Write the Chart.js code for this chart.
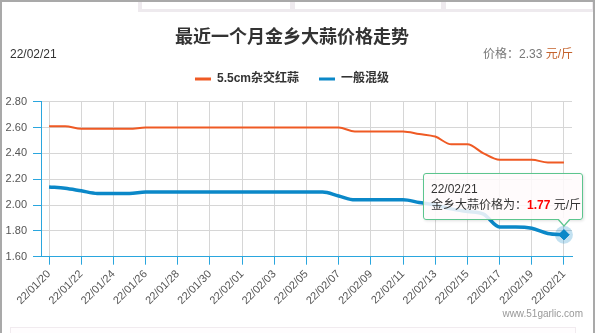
<!DOCTYPE html>
<html>
<head>
<meta charset="utf-8">
<script src="https://cdn.jsdelivr.net/npm/chart.js@4.4.1/dist/chart.umd.min.js"></script>
<style>
html,body{margin:0;padding:0;background:#fff;}
#wrap{position:relative;width:595px;height:333px;overflow:hidden;background:#fff;font-family:"Liberation Sans","Noto Sans CJK SC",sans-serif;}
#tabs{position:absolute;left:138px;top:0;width:455px;height:12px;background:#eeeaee;}
.cell{position:absolute;top:0;height:9px;background:#fff;}
#bottombox{position:absolute;left:10px;top:327px;width:564px;height:30px;border:1px solid #f1ebef;background:#fffdfe;}
#frame{position:absolute;left:0;top:0;width:591px;height:345px;border:2px solid #a9a9a9;border-bottom:none;pointer-events:none;}
#box{position:absolute;left:0;top:0;width:595px;height:333px;}
#date{position:absolute;left:10px;top:47px;font-size:12px;color:#333;line-height:14px;}
#price{position:absolute;right:22px;top:47px;font-size:12px;color:#777;line-height:14px;}
#price .u{color:#c4622c;}
#wm{position:absolute;right:12px;top:308px;font-size:10px;color:#999;line-height:12px;}
#tip{position:absolute;display:none;width:158px;height:45px;border:1px solid #5cc58e;border-radius:3px;background:rgba(255,250,252,0.86);box-shadow:1px 1px 3px rgba(0,0,0,0.12);font-size:12px;color:#333;line-height:16px;box-sizing:content-box;}
#tip .in{position:absolute;left:7px;top:7px;white-space:nowrap;}
#tip .v{color:#ff0000;font-weight:bold;}
#tip .ao{position:absolute;bottom:-8px;width:0;height:0;border-left:7px solid transparent;border-right:7px solid transparent;border-top:8px solid #5cc58e;}
#tip .ai{position:absolute;bottom:-6px;width:0;height:0;border-left:6px solid transparent;border-right:6px solid transparent;border-top:7px solid #fffafc;}
</style>
</head>
<body>
<div id="wrap">
  <div id="tabs">
    <div class="cell" style="left:4px;width:148px;"></div>
    <div class="cell" style="left:157px;width:146px;"></div>
    <div class="cell" style="left:308px;width:146px;"></div>
  </div>
  <div id="bottombox"></div>
  <div id="box"><canvas id="c"></canvas></div>
  <div id="date"></div>
  <div id="price"></div>
  <div id="wm">www.51garlic.com</div>
  <div id="tip"><div class="in"><div class="d"></div><div>金乡大蒜价格为：<span class="v"></span> 元/斤</div></div><div class="ao"></div><div class="ai"></div></div>
  <div id="frame"></div>
</div>
<script>
const dates = ['22/01/20','22/01/21','22/01/22','22/01/23','22/01/24','22/01/25','22/01/26','22/01/27','22/01/28','22/01/29','22/01/30','22/01/31',
  '22/02/01','22/02/02','22/02/03','22/02/04','22/02/05','22/02/06','22/02/07','22/02/08','22/02/09','22/02/10','22/02/11','22/02/12',
  '22/02/13','22/02/14','22/02/15','22/02/16','22/02/17','22/02/18','22/02/19','22/02/20','22/02/21'];
const redGarlic = [2.61,2.61,2.59,2.59,2.59,2.59,2.60,2.60,2.60,2.60,2.60,2.60,2.60,2.60,2.60,2.60,2.60,2.60,2.60,
  2.57,2.57,2.57,2.57,2.55,2.53,2.47,2.47,2.40,2.35,2.35,2.35,2.33,2.33];
const mixedGrade = [2.14,2.13,2.11,2.09,2.09,2.09,2.10,2.10,2.10,2.10,2.10,2.10,2.10,2.10,2.10,2.10,2.10,2.10,
  2.07,2.04,2.04,2.04,2.04,2.02,2.00,1.97,1.95,1.93,1.83,1.83,1.82,1.78,1.77];
const seriesNames = ['5.5cm杂交红蒜','一般混级'];
const yTicks = [1.60,1.80,2.00,2.20,2.40,2.60,2.80];

const ORANGE = '#ef5a24', BLUE = '#0b88c8', AXIS = '#2aa6de', GRID = '#d6d6d6';
const LAST = dates.length - 1;

document.getElementById('date').textContent = dates[LAST];
document.getElementById('price').innerHTML = '价格：' + redGarlic[LAST].toFixed(2) + ' <span class="u">元/斤</span>';

const legendGap = {
  id: 'legendGap',
  afterInit(chart) {
    const lg = chart.legend;
    if (lg) {
      const f = lg.fit;
      lg.fit = function () { f.call(this); this.height += 6.7; };
    }
  }
};
const halo = {
  id: 'halo',
  afterDatasetsDraw(chart) {
    const ctx = chart.ctx;
    chart.getActiveElements().forEach(a => {
      const el = a.element;
      ctx.save();
      ctx.beginPath();
      ctx.arc(el.x, el.y, 9, 0, Math.PI * 2);
      ctx.fillStyle = 'rgba(11,136,200,0.25)';
      ctx.fill();
      ctx.restore();
      el.draw(ctx, chart.chartArea);
    });
  }
};

const tickFont = {family: '"Liberation Sans","Noto Sans CJK SC",sans-serif', size: 11};

const chart = new Chart(document.getElementById('c'), {
  type: 'line',
  data: {
    labels: dates,
    datasets: [
      {label: seriesNames[0], data: redGarlic, borderColor: ORANGE, backgroundColor: ORANGE, borderWidth: 2,
        pointRadius: 0, pointHoverRadius: 0, cubicInterpolationMode: 'monotone', fill: false},
      {label: seriesNames[1], data: mixedGrade, borderColor: BLUE, backgroundColor: BLUE, borderWidth: 3.5,
        pointRadius: 0, pointStyle: 'rectRot', pointHoverRadius: 5, pointHoverBackgroundColor: BLUE,
        pointHoverBorderColor: BLUE, pointHoverBorderWidth: 1, cubicInterpolationMode: 'monotone', fill: false}
    ]
  },
  options: {
    responsive: true,
    maintainAspectRatio: false,
    devicePixelRatio: 1,
    animation: false,
    events: [],
    layout: {padding: {left: 0, right: 11, top: 0, bottom: 26.3}},
    plugins: {
      title: {
        display: true, text: '最近一个月金乡大蒜价格走势', color: '#333',
        font: {family: '"Noto Sans CJK SC",sans-serif', size: 18, weight: 'bold'},
        padding: {top: 25, bottom: 6.4}
      },
      legend: {
        display: true, position: 'top',
        labels: {
          boxWidth: 16, boxHeight: 3, padding: 20, color: '#333',
          font: {family: '"Liberation Sans","Noto Sans CJK SC",sans-serif', size: 12, weight: 'bold'},
          generateLabels(c) {
            return Chart.defaults.plugins.legend.labels.generateLabels(c).map(l => Object.assign(l, {lineWidth: 0, fillStyle: l.strokeStyle}));
          }
        }
      },
      tooltip: {
        enabled: false,
        external(context) {
          const {tooltip} = context;
          const tip = document.getElementById('tip');
          if (!tooltip || tooltip.opacity === 0 || !tooltip.dataPoints || !tooltip.dataPoints.length) { tip.style.display = 'none'; return; }
          const dp = tooltip.dataPoints[0];
          const px = dp.element.x, py = dp.element.y;
          tip.querySelector('.d').textContent = dp.label;
          tip.querySelector('.v').textContent = dp.parsed.y.toFixed(2);
          const left = px - 141, top = py - 62;
          tip.style.left = left + 'px';
          tip.style.top = top + 'px';
          const ax = px - left;
          tip.querySelector('.ao').style.left = (ax - 8) + 'px';
          tip.querySelector('.ai').style.left = (ax - 7) + 'px';
          tip.style.display = 'block';
        }
      }
    },
    scales: {
      x: {
        type: 'category',
        offset: true,
        grid: {display: true, offset: false, color: GRID, tickColor: AXIS, tickLength: 8, drawOnChartArea: true},
        border: {display: true, color: AXIS, width: 1},
        ticks: {
          autoSkip: false, minRotation: 45, maxRotation: 45, padding: 3, color: '#555', font: tickFont,
          callback(v, i) { return i % 2 === 0 ? this.getLabelForValue(v) : null; }
        },
        afterFit(s) { s.height = 50; }
      },
      y: {
        min: yTicks[0], max: yTicks[yTicks.length - 1],
        grid: {color: GRID, tickColor: AXIS, tickLength: 8},
        border: {display: true, color: AXIS, width: 1},
        afterBuildTicks(s) { s.ticks = yTicks.map(v => ({value: v})); },
        ticks: {padding: 6, color: '#555', font: tickFont, callback: v => Number(v).toFixed(2)},
        afterFit(s) { s.width = 41; }
      },
      yRightSpace: {
        type: 'linear', position: 'right', display: true,
        min: yTicks[0], max: yTicks[yTicks.length - 1],
        grid: {display: false, drawTicks: false},
        border: {display: false},
        ticks: {display: false},
        afterFit(s) { s.width = 12; }
      }
    }
  },
  plugins: [legendGap, halo]
});

const pt = chart.getDatasetMeta(1).data[LAST];
chart.setActiveElements([{datasetIndex: 1, index: LAST}]);
chart.tooltip.setActiveElements([{datasetIndex: 1, index: LAST}], {x: pt.x, y: pt.y});
chart.update('none');
</script>
</body>
</html>
